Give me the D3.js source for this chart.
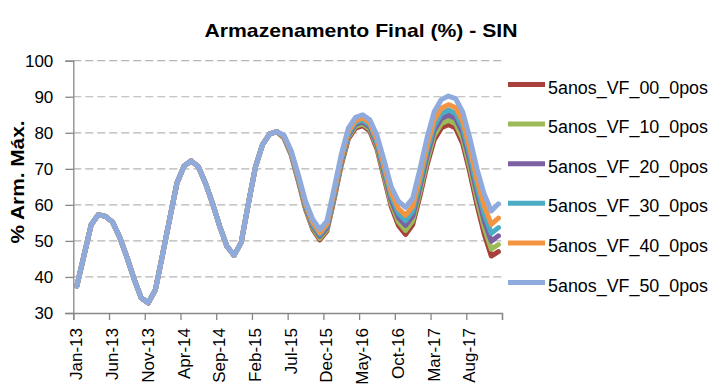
<!DOCTYPE html>
<html>
<head>
<meta charset="utf-8">
<script src="https://cdn.jsdelivr.net/npm/d3@7"></script>
<style>
  html, body { margin: 0; padding: 0; background: #fff; }
  svg { display: block; }
  text { font-family: "Liberation Sans", Arial, sans-serif; fill: #000; }
</style>
</head>
<body>
<svg id="chart" width="713" height="387"></svg>
<script>
// Monthly categories, Jan-2013 .. Dec-2017
const categories = [
  "Jan-13","Feb-13","Mar-13","Apr-13","May-13","Jun-13","Jul-13","Aug-13","Sep-13","Oct-13","Nov-13","Dec-13",
  "Jan-14","Feb-14","Mar-14","Apr-14","May-14","Jun-14","Jul-14","Aug-14","Sep-14","Oct-14","Nov-14","Dec-14",
  "Jan-15","Feb-15","Mar-15","Apr-15","May-15","Jun-15","Jul-15","Aug-15","Sep-15","Oct-15","Nov-15","Dec-15",
  "Jan-16","Feb-16","Mar-16","Apr-16","May-16","Jun-16","Jul-16","Aug-16","Sep-16","Oct-16","Nov-16","Dec-16",
  "Jan-17","Feb-17","Mar-17","Apr-17","May-17","Jun-17","Jul-17","Aug-17","Sep-17","Oct-17","Nov-17","Dec-17"
];

// Category labels printed under the axis (every 5th month)
const tickLabels = ["Jan-13","Jun-13","Nov-13","Apr-14","Sep-14","Feb-15","Jul-15","Dec-15","May-16","Oct-16","Mar-17","Aug-17"];

const yTicks = [30, 40, 50, 60, 70, 80, 90, 100];

const seriesNames = ["5anos_VF_00_0pos","5anos_VF_10_0pos","5anos_VF_20_0pos","5anos_VF_30_0pos","5anos_VF_40_0pos","5anos_VF_50_0pos"];
const seriesColors = ["#A8403C","#9BBB59","#7D60A2","#4BACC6","#F39442","#8FAADC"];

// Final storage (% of max) per scenario
const vf00 = [37.5,46,54.5,57.3,56.8,55.2,51,45.5,39.5,34.2,32.8,36.5,
  46.3,56.2,66,70.8,72.2,70.6,66,60.3,54,48.5,46,49.6,
  60.3,70.6,76.8,79.7,80.3,78.5,73.8,66.5,58.8,53.3,50.3,52.8,
  61.5,71,78.3,81.3,82,80.5,75.5,67.5,59.5,54.3,51.8,54.5,
  62.3,71,78,81.3,82.3,81.3,77,69,60,52,45.8,47];
const vf10 = [37.5,46,54.5,57.3,56.8,55.2,51,45.5,39.5,34.2,32.8,36.5,
  46.3,56.2,66,70.8,72.2,70.6,66,60.3,54,48.5,46,49.6,
  60.3,70.6,76.8,79.7,80.3,78.6,74.0,66.8,59.1,53.7,50.7,53.2,
  62.0,71.5,78.8,81.8,82.5,81.0,76.1,68.2,60.3,55.3,52.9,55.6,
  63.4,72.1,79.2,82.5,83.5,82.5,78.3,70.4,61.5,53.7,47.7,49.0];
const vf20 = [37.5,46,54.5,57.3,56.8,55.2,51,45.5,39.5,34.2,32.8,36.5,
  46.3,56.2,66,70.8,72.2,70.6,66,60.3,54,48.5,46,49.6,
  60.3,70.6,76.8,79.7,80.3,78.8,74.2,67.1,59.5,54.2,51.3,53.7,
  62.5,72.0,79.3,82.3,83.0,81.5,76.8,69.1,61.3,56.5,54.3,56.9,
  64.8,73.5,80.6,83.9,84.9,84.0,79.9,72.1,63.3,55.6,49.9,51.4];
const vf30 = [37.5,46,54.5,57.3,56.8,55.2,51,45.5,39.5,34.2,32.8,36.5,
  46.3,56.2,66,70.8,72.2,70.6,66,60.3,54,48.5,46,49.6,
  60.3,70.6,76.8,79.7,80.3,78.9,74.4,67.4,59.9,54.7,51.8,54.2,
  63.0,72.5,79.8,82.8,83.5,82.1,77.4,69.9,62.3,57.7,55.6,58.2,
  66.1,74.8,81.9,85.3,86.3,85.4,81.4,73.8,65.0,57.5,52.1,53.7];
const vf40 = [37.5,46,54.5,57.3,56.8,55.2,51,45.5,39.5,34.2,32.8,36.5,
  46.3,56.2,66,70.8,72.2,70.6,66,60.3,54,48.5,46,49.6,
  60.3,70.6,76.8,79.7,80.3,79.1,74.6,67.8,60.3,55.2,52.3,54.7,
  63.6,73.1,80.4,83.4,84.1,82.7,78.2,70.9,63.4,59.0,57.1,59.6,
  67.6,76.3,83.5,86.8,87.8,87.0,83.2,75.7,67.0,59.7,54.6,56.3];
const vf50 = [37.5,46,54.5,57.3,56.8,55.2,51,45.5,39.5,34.2,32.8,36.5,
  46.3,56.2,66,70.8,72.2,70.6,66,60.3,54,48.5,46,49.6,
  60.3,70.6,76.8,79.7,80.3,79.3,75.0,68.3,61.0,56.0,53.2,55.5,
  64.5,74,81.3,84.3,85.0,83.6,79.3,72.3,65,61,59.3,61.8,
  69.8,78.5,85.8,89.2,90.2,89.5,85.8,78.5,70,63,58.3,60.3];

const seriesValues = [vf00, vf10, vf20, vf30, vf40, vf50];

const svg = d3.select("#chart");
svg.append("rect").attr("width", 713).attr("height", 387).attr("fill", "#fff");

const plot = { left: 73.3, right: 502, top: 60.7, bottom: 313 };

// Points sit in the middle of each monthly slot
const x = d3.scalePoint().domain(categories).range([plot.left, plot.right]).padding(0.5);
// Slot boundaries, used for the axis tick marks
const xEdge = d3.scaleLinear().domain([0, categories.length]).range([plot.left, plot.right]);
const y = d3.scaleLinear().domain([30, 100]).range([plot.bottom, plot.top]);

const axisColor = "#878787";

// Dashed horizontal gridlines
svg.append("g")
  .selectAll("line")
  .data(yTicks.filter(v => v > 30))
  .join("line")
  .attr("x1", plot.left).attr("x2", plot.right)
  .attr("y1", d => y(d)).attr("y2", d => y(d))
  .attr("stroke", "#b4b4b4")
  .attr("stroke-width", 1.2)
  .attr("stroke-dasharray", "8,4");

// Y axis
const yAxis = svg.append("g")
  .attr("transform", `translate(${plot.left},0)`)
  .call(d3.axisLeft(y).tickValues(yTicks).tickSize(8).tickPadding(12).tickFormat(d3.format("d")));
yAxis.select(".domain").attr("stroke", axisColor).attr("stroke-width", 1.3);
yAxis.selectAll(".tick line").attr("stroke", axisColor).attr("stroke-width", 1.3);
yAxis.selectAll(".tick text")
  .attr("font-size", 17)
  .attr("font-family", "Liberation Sans, Arial, sans-serif")
  .attr("fill", "#000");

// X axis: tick marks on slot boundaries every 5 months
const edgeTicks = d3.range(0, categories.length + 1, 5);
const xAxis = svg.append("g")
  .attr("transform", `translate(0,${plot.bottom})`)
  .call(d3.axisBottom(xEdge).tickValues(edgeTicks).tickSize(7).tickFormat(""));
xAxis.select(".domain").attr("stroke", axisColor).attr("stroke-width", 1.3);
xAxis.selectAll(".tick line").attr("stroke", axisColor).attr("stroke-width", 1.3);

// Rotated month labels, centred on their month
svg.append("g")
  .selectAll("text")
  .data(tickLabels)
  .join("text")
  .attr("transform", d => `translate(${x(d)},${plot.bottom + 15}) rotate(-90)`)
  .attr("text-anchor", "end")
  .attr("dominant-baseline", "central")
  .attr("font-size", 17)
  .text(d => d);

// Series lines
const line = d3.line()
  .x((d, i) => x(categories[i]))
  .y(d => y(d));

svg.append("g")
  .selectAll("path")
  .data(seriesValues)
  .join("path")
  .attr("d", d => line(d))
  .attr("fill", "none")
  .attr("stroke", (d, i) => seriesColors[i])
  .attr("stroke-width", 5)
  .attr("stroke-linejoin", "round")
  .attr("stroke-linecap", "round");

// Title
svg.append("text")
  .attr("x", 361).attr("y", 37)
  .attr("text-anchor", "middle")
  .attr("font-size", 19)
  .attr("font-weight", "bold")
  .attr("textLength", 313)
  .attr("lengthAdjust", "spacingAndGlyphs")
  .text("Armazenamento Final (%) - SIN");

// Y axis title
svg.append("text")
  .attr("transform", "translate(24,182) rotate(-90)")
  .attr("text-anchor", "middle")
  .attr("font-size", 17.5)
  .attr("font-weight", "bold")
  .attr("textLength", 123)
  .attr("lengthAdjust", "spacingAndGlyphs")
  .text("% Arm. Máx.");

// Legend
const legend = svg.append("g")
  .selectAll("g")
  .data(seriesNames)
  .join("g")
  .attr("transform", (d, i) => `translate(508,${84.5 + i * 39.6})`);

legend.append("line")
  .attr("x1", 0).attr("x2", 37)
  .attr("y1", 0).attr("y2", 0)
  .attr("stroke", (d, i) => seriesColors[i])
  .attr("stroke-width", 5);

legend.append("text")
  .attr("x", 40).attr("y", 9)
  .attr("font-size", 17.5)
  .attr("textLength", 160)
  .attr("lengthAdjust", "spacingAndGlyphs")
  .text(d => d);
</script>
</body>
</html>
